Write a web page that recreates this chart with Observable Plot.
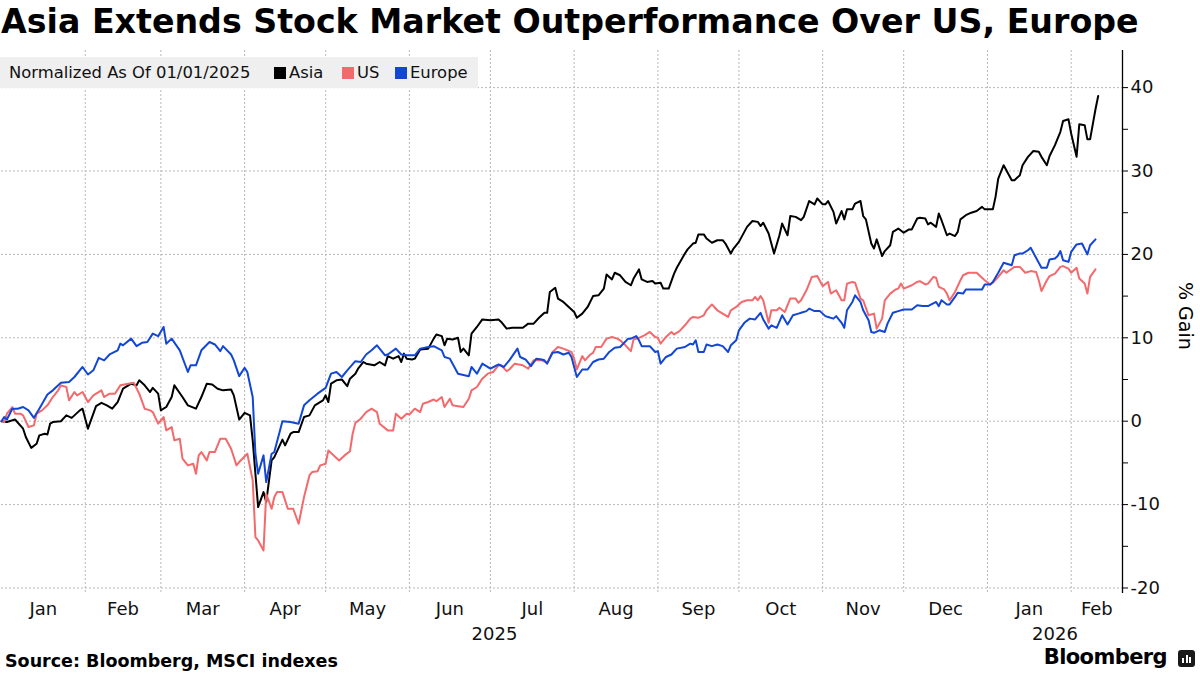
<!DOCTYPE html>
<html>
<head>
<meta charset="utf-8">
<script src="https://cdn.jsdelivr.net/npm/d3@7"></script>
<script src="https://cdn.jsdelivr.net/npm/@observablehq/plot@0.6"></script>
<style>
  html, body { margin: 0; padding: 0; background: #fff; }
  #page { position: relative; width: 1200px; height: 675px; overflow: hidden; font-family: "DejaVu Sans", sans-serif; color: #000; }
  #title { position: absolute; left: 1px; top: 2px; font-weight: bold; font-size: 30px; white-space: nowrap; line-height: 1.2; }
  #chart { position: absolute; left: 0; top: 50px; }
  #legend { position: absolute; left: 0; top: 57px; width: 478px; height: 31px; background: #efefef; font-size: 16.4px; color: #111; }
  #legend span { position: absolute; top: 5px; white-space: nowrap; line-height: 21px; }
  #legend i { position: absolute; top: 10px; width: 12px; height: 12px; }
  #ylabel { position: absolute; left: 1156px; top: 301px; width: 60px; text-align: center; font-size: 19px; transform: rotate(90deg); white-space: nowrap; line-height: 22px; }
  #source { position: absolute; left: 5px; top: 650px; font-weight: bold; font-size: 17.5px; white-space: nowrap; line-height: 22px; }
  #brand { position: absolute; right: 33px; top: 645px; font-weight: bold; font-size: 21px; white-space: nowrap; line-height: 25px; letter-spacing: -0.6px; }
  #icon { position: absolute; left: 1178px; top: 650px; width: 17px; height: 17px; background: #1a1a1a; border-radius: 3px; }
  #icon b { position: absolute; bottom: 4px; width: 2px; background: #fff; }
</style>
</head>
<body>
<div id="page">
  <div id="title"><span id="titleText">Asia Extends Stock Market Outperformance Over US, Europe</span></div>
  <div id="chart"></div>
  <div id="legend"></div>
  <div id="ylabel">% Gain</div>
  <div id="source">Source: Bloomberg, MSCI indexes</div>
  <div id="brand">Bloomberg</div>
  <div id="icon"><b style="left:4px;height:5px"></b><b style="left:7.5px;height:8px"></b><b style="left:11px;height:6px"></b></div>
</div>
<script>
// ---- data (days since 2025-01-01, % gain normalized to 01/01/2025) ----
const startDate = "2025-01-01";
const seriesNames = ["Asia", "US", "Europe"];
const seriesColors = ["#000000", "#f4696b", "#1246d6"];

const asiaDay = [0,2,5,8,9,11,13,14,16,17,18,19,22,24,26,29,30,32,34,35,37,39,41,43,45,48,50,51,53,55,56,58,59,60,61,63,64,67,69,72,74,76,78,80,82,85,86,88,90,92,93,95,97,98,100,101,104,105,107,108,110,112,114,116,119,120,121,122,124,126,128,129,131,132,134,135,138,140,142,143,145,147,148,149,150,152,153,155,158,160,161,163,164,165,167,169,170,171,173,174,176,178,181,184,185,187,189,190,193,195,197,199,201,202,203,205,206,208,210,212,213,215,217,219,221,223,224,226,227,229,231,233,234,236,237,239,241,242,244,245,247,249,250,253,254,256,257,258,260,261,263,265,267,268,270,271,273,274,276,278,280,281,282,284,285,286,288,289,291,292,294,296,297,299,301,302,304,305,306,308,309,311,312,313,315,316,318,319,320,322,323,324,326,327,329,330,332,334,336,337,339,340,342,343,344,346,347,348,350,351,353,354,355,357,359,361,363,364,367,368,369,371,372,374,375,377,378,380,382,384,385,387,388,390,392,393,395,396,398,399,401,402,403,405,406];
const asiaPct = [0,-0.1,0.2,-0.9,-1.9,-3.2,-2.7,-1.7,-1.5,-1.6,-0.3,-0.1,0,0.7,0.4,1.3,1.5,-0.9,0.9,1.8,2.2,1.9,1.5,2.3,3.9,4.5,4.3,4.9,4.3,3.5,4.0,3.3,1.3,1.5,1.7,2.9,4.3,2.9,1.9,1.5,2.9,4.5,4.4,3.9,3.7,3.8,3.1,0.2,1.0,0.7,-2.3,-10.3,-8.5,-9.7,-4.7,-4.3,-2.2,-2.9,-1.5,-1.3,-1.3,0.5,0.7,1.9,2.5,3.1,2.3,4.5,4.9,5.0,4.2,5.1,5.7,6.3,7.1,6.9,6.7,7.1,6.7,7.8,7.5,7.8,7.1,8.1,7.5,7.4,7.5,8.6,8.7,9.9,10.4,10.2,9.1,9.9,9.8,10.0,8.3,8.7,7.9,10.5,11.3,12.2,12.1,12.2,11.9,11.1,11.2,11.2,11.2,11.7,11.7,12.4,13.0,13.0,15.5,16.0,14.7,14.3,13.7,13.1,12.4,12.9,13.7,15.0,15.1,15.9,17.6,17.0,17.8,17.5,16.7,16.3,17.1,18.2,17.0,16.7,16.8,16.5,16.6,15.9,15.9,17.7,18.4,20.1,20.6,21.3,21.4,22.4,22.4,21.9,21.4,21.7,21.7,21.3,20.1,20.7,21.5,22.1,23.3,24.0,23.9,23.4,23.8,22.5,21.3,20.1,22.3,23.7,22.3,24.6,24.5,24.1,24.5,26.4,26.0,26.7,26.0,26.0,26.4,25.1,23.7,25.2,24.2,25.4,25.4,26.1,26.4,24.6,24.2,21.3,20.7,21.8,19.8,20.4,21.1,22.7,23.1,22.6,23.0,23.0,24.3,24.4,24.3,23.6,23.8,23.3,24.9,24.1,22.3,22.5,22.2,22.7,24.2,24.7,25.0,25.2,25.7,25.4,25.4,26.9,29.1,30.7,30.1,28.9,28.9,29.5,30.7,31.7,32.4,32.3,31.7,30.7,31.8,33.1,34.7,36.0,36.2,34.5,31.7,35.6,35.5,33.8,33.8,37.4,39.0];

const usDay = [0,1,2,4,5,7,8,10,12,13,15,17,19,21,22,24,25,27,28,30,32,34,37,38,40,42,44,47,49,51,53,55,56,58,60,61,63,64,66,67,69,71,72,73,74,76,77,79,81,83,85,87,88,91,93,94,95,97,98,99,100,101,102,104,106,108,110,112,114,115,117,118,120,121,123,125,127,129,130,131,133,135,137,139,140,143,145,146,148,150,151,153,155,156,158,160,161,163,164,166,167,169,171,173,174,176,178,180,182,184,185,187,188,190,193,194,195,197,200,202,204,206,208,211,212,213,215,216,218,219,220,222,224,226,228,229,231,233,234,236,238,240,242,243,244,246,248,249,251,253,255,256,258,260,261,263,265,267,269,270,272,274,276,278,279,280,281,282,284,285,287,288,290,292,294,295,296,298,300,302,304,306,307,309,311,312,313,315,316,318,319,321,323,324,326,327,329,331,332,333,334,337,339,340,342,343,345,346,347,349,350,351,353,355,356,358,361,363,364,366,367,369,371,372,375,377,379,381,383,384,385,387,388,390,392,393,395,396,398,399,401,402,403,405];
const usPct = [0,-0.1,0.9,1.7,0.9,0.9,0.7,-0.7,-0.5,0.9,1.3,1.9,2.9,3.7,4.3,4.1,2.5,3.5,3.1,3.5,2.3,3.1,3.7,2.9,3.3,3.3,4.3,4.5,4.6,3.3,1.5,1.3,1.1,-0.3,0.5,-1.1,-0.7,-2.3,-2.1,-4.5,-5.3,-5.1,-6.3,-4.1,-3.7,-4.7,-3.7,-3.7,-2.1,-2.1,-3.3,-5.3,-4.9,-3.9,-7.1,-13.9,-14.3,-15.5,-8.7,-9.6,-10.5,-9.1,-8.5,-8.5,-10.5,-10.5,-12.3,-9.1,-6.5,-6.1,-6.0,-5.3,-5.1,-3.5,-4.1,-4.7,-4.1,-3.6,-1.5,-0.2,0.3,1.1,1.5,1.1,-0.3,-1.1,-1.1,0.9,0.3,0.9,0.8,1.5,1.1,2.1,2.3,2.6,2.4,2.9,1.7,2.7,1.9,1.8,1.7,2.7,3.7,4.1,5.1,5.7,5.9,6.7,6.7,6.0,6.2,6.9,6.7,6.5,6.3,7.3,7.3,7.0,8.3,8.9,8.7,8.3,7.5,6.2,7.8,7.3,8.0,8.2,8.9,8.9,9.9,10.1,9.9,9.7,9.1,8.4,9.8,10.0,10.3,10.7,10.1,10.0,9.3,10.1,10.7,10.4,10.8,11.5,12.3,12.5,12.4,12.7,13.3,14.0,13.3,12.9,12.5,13.3,13.7,14.3,14.5,14.5,14.9,14.5,15.0,14.5,11.8,13.3,13.3,13.6,13.1,14.7,14.7,14.2,14.5,15.7,17.3,17.4,16.2,16.7,15.3,15.7,14.5,14.5,16.5,16.7,16.6,14.7,14.5,12.7,12.9,11.1,12.3,14.5,15.3,15.8,15.9,16.5,15.9,16.3,16.7,16.8,16.4,16.5,17.3,17.2,16.1,15.8,15.3,14.5,15.5,16.9,17.5,17.8,17.8,17.2,16.9,16.4,16.6,17.3,18.1,17.8,18.5,18.5,17.8,18.0,17.9,16.9,15.6,16.9,17.4,17.7,18.5,18.6,18.3,17.8,18.4,17.1,16.5,15.3,17.3,18.2];

const europeDay = [0,1,2,4,6,8,10,12,14,17,19,22,25,27,30,32,34,36,38,40,43,44,45,48,50,52,54,56,58,60,61,63,66,69,70,72,74,77,79,81,82,85,86,88,90,91,93,94,95,97,98,100,101,104,107,110,112,114,117,120,122,124,126,128,131,133,135,137,139,142,143,146,148,150,153,155,158,160,163,164,166,169,173,174,176,178,181,184,186,188,191,192,194,196,198,200,201,202,204,206,208,210,211,212,213,215,217,219,221,223,225,227,229,232,233,235,236,237,240,242,243,244,246,248,250,253,255,256,257,258,260,261,263,265,267,269,270,272,273,275,277,279,281,282,284,285,287,289,291,293,295,296,298,299,301,303,305,306,308,309,311,312,313,315,316,318,319,321,322,323,325,327,328,330,332,334,337,339,341,343,346,347,348,350,351,353,354,356,357,359,361,363,364,366,367,369,371,374,375,377,378,380,381,382,384,385,387,388,390,391,392,393,395,396,398,400,402,403,405];
const europePct = [0,0.5,0.2,1.5,1.5,1.7,1.3,0.4,1.5,3.2,3.7,4.6,4.7,5.3,6.5,5.6,6.1,7.6,7.3,8.0,8.5,9.3,9.1,9.9,9.0,9.4,9.5,10.5,10.2,11.3,9.3,9.9,8.5,5.9,6.7,6.7,8.5,9.5,9.2,8.4,9.0,8.0,7.3,5.4,6.4,5.9,2.9,-3.9,-6.3,-4.1,-7.3,-3.9,-3.7,0,-0.1,-0.3,1.9,2.5,3.3,4.0,5.7,5.9,5.3,6.1,7.2,7.1,8.0,8.5,9.1,7.9,8.0,8.7,8.0,7.9,7.9,8.7,8.9,9.0,8.5,7.7,7.5,5.7,5.4,6.5,5.7,6.9,6.3,6.8,6.5,7.3,8.7,7.7,7.4,6.6,7.5,7.4,7.3,6.9,8.2,8.3,8.0,8.2,7.7,6.5,5.3,6.2,6.2,7.1,7.4,7.5,8.3,8.8,8.9,9.9,9.9,10.2,9.7,9.0,9.0,8.3,8.4,6.9,7.7,8.0,8.7,8.9,9.3,9.2,9.7,8.3,8.3,9.2,9.0,9.2,9.0,8.3,9.1,9.7,10.9,11.8,12.3,12.2,13.0,12.2,11.1,11.5,11.2,12.7,11.6,12.7,12.9,13.0,13.2,13.5,13.2,13.2,12.6,12.5,12.3,12.6,11.8,11.2,13.3,14.3,15.1,14.3,13.3,12.1,10.7,10.6,10.9,10.7,11.7,13.0,13.2,13.4,13.4,13.9,13.8,13.8,14.3,13.8,14.5,14.0,14.0,14.9,15.4,15.3,15.8,15.8,15.8,15.8,16.4,16.4,16.7,17.8,19.0,18.7,19.9,20.1,20.1,20.5,20.8,20.2,19.0,18.4,18.4,19.4,19.5,19.8,20.4,19.3,19.1,20.3,21.2,21.3,20.0,21.1,21.8];

const monthStarts = ["2025-01-01","2025-02-01","2025-03-01","2025-04-01","2025-05-01","2025-06-01","2025-07-01","2025-08-01","2025-09-01","2025-10-01","2025-11-01","2025-12-01","2026-01-01","2026-02-01"];
const monthLabels = ["Jan","Feb","Mar","Apr","May","Jun","Jul","Aug","Sep","Oct","Nov","Dec","Jan","Feb"];
const yearStarts = ["2025-01-01","2026-01-01"];
const yearLabels = ["2025","2026"];
const xEnd = "2026-02-20";
const yDomain = [-20.66, 44.45];
const yTicks = [-20,-15,-10,-5,0,5,10,15,20,25,30,35,40];
const yGrid = [-20,-10,0,10,20,30,40];

// ---- build tables ----
const parse = s => new Date(s + "T00:00:00Z");
const base = parse(startDate);
const dayToDate = d => new Date(base.getTime() + d * 864e5);
const rows = [];
[[asiaDay, asiaPct], [usDay, usPct], [europeDay, europePct]].forEach(([days, vals], i) => {
  days.forEach((d, j) => rows.push({series: seriesNames[i], date: dayToDate(d), value: vals[j]}));
});
const X0 = parse(startDate), X1 = parse(xEnd);
const starts = monthStarts.map(parse);
const months = monthLabels.map((label, i) => {
  const a = starts[i], b = i + 1 < starts.length ? starts[i + 1] : X1;
  return {label, mid: new Date((a.getTime() + b.getTime()) / 2)};
});
const ys = yearStarts.map(parse);
const years = yearLabels.map((label, i) => {
  const a = ys[i], b = i + 1 < ys.length ? ys[i + 1] : X1;
  return {label, mid: new Date((a.getTime() + b.getTime()) / 2)};
});
const fmt = d => (d % 10 === 0 ? (d < 0 ? "-" + Math.abs(d) : String(d)) : "");

const lineMarks = seriesNames.map((name, i) =>
  Plot.line(rows.filter(r => r.series === name), {x: "date", y: "value", stroke: seriesColors[i], strokeWidth: 2, strokeLinejoin: "round"})
);

const chart = Plot.plot({
  width: 1200,
  height: 600,
  marginLeft: 1,
  marginRight: 78,
  marginTop: 0,
  marginBottom: 57,
  x: {type: "utc", domain: [X0, X1], axis: null},
  y: {domain: yDomain},
  style: {fontFamily: "DejaVu Sans, sans-serif", fontSize: "18px", color: "#111", background: "transparent", overflow: "visible"},
  marks: [
    Plot.gridY(yGrid, {stroke: "#b8b8b8", strokeOpacity: 1, strokeDasharray: "2,2"}),
    Plot.gridX(starts.slice(1), {stroke: "#b8b8b8", strokeOpacity: 1, strokeDasharray: "2,2"}),
    Plot.axisY(yTicks, {anchor: "right", tickSize: 5, tickPadding: 3, tickFormat: fmt, label: null, fontSize: 18, stroke: "#000"}),
    Plot.ruleX([X1], {stroke: "#000", strokeWidth: 1.3}),
    ...lineMarks,
    Plot.text(months, {x: "mid", text: "label", frameAnchor: "bottom", dy: 16, fontSize: 18, lineAnchor: "middle", fill: "#111"}),
    Plot.text(years, {x: "mid", text: "label", frameAnchor: "bottom", dy: 41, fontSize: 18, lineAnchor: "middle", fill: "#111"})
  ]
});
document.getElementById("chart").appendChild(chart);

// legend
const legend = document.getElementById("legend");
const lt = document.createElement("span");
lt.textContent = "Normalized As Of 01/01/2025";
lt.style.left = "9px";
legend.appendChild(lt);
const sqX = [274, 342, 395];
seriesNames.forEach((name, i) => {
  const sq = document.createElement("i");
  sq.style.left = sqX[i] + "px";
  sq.style.background = seriesColors[i];
  legend.appendChild(sq);
  const s = document.createElement("span");
  s.textContent = name;
  s.style.left = (sqX[i] + 15) + "px";
  legend.appendChild(s);
});

// fit title to reference width
const tt = document.getElementById("titleText");
const w = tt.getBoundingClientRect().width;
tt.style.fontSize = (30 * 1138 / w) + "px";
</script>
</body>
</html>
